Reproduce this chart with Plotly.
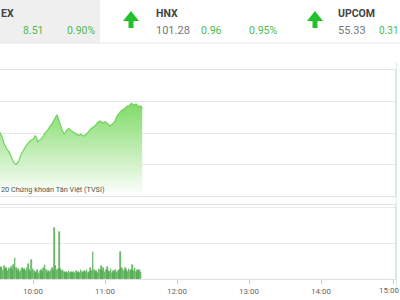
import plotly.graph_objects as go
import pandas as pd

# ---- data ----
day = "2020-06-01 "
price_times = [f"{9 + m // 60:02d}:{m % 60:02d}" for m in range(32, 151, 2)] + ["11:31"]
price_values = [950.2, 949.5, 948.3, 947.5, 947.0, 946.1, 945.3, 945.0, 945.5, 946.6,
                947.3, 947.9, 948.4, 948.8, 949.0, 949.6, 948.6, 949.0, 949.3, 950.0,
                950.4, 951.0, 951.5, 952.2, 952.9, 951.8, 950.6, 949.8, 950.4, 950.7,
                950.3, 950.1, 949.8, 949.6, 949.8, 949.5, 949.7, 950.2, 950.6, 950.9,
                951.2, 951.7, 951.9, 951.6, 951.8, 951.5, 951.1, 951.4, 951.8, 952.7,
                953.2, 953.6, 953.8, 954.2, 954.3, 954.7, 954.4, 954.6, 954.2, 954.3,
                953.8]
vol_times = [f"{9 + m // 60:02d}:{m % 60:02d}" for m in range(33, 151)]
vol_values = [0.30, 0.33, 0.25, 0.35, 0.28, 0.31, 0.22, 0.30, 0.27, 0.33,
              0.25, 0.38, 0.58, 0.30, 0.22, 0.27, 0.20, 0.24, 0.30, 0.26,
              0.28, 0.22, 0.30, 0.42, 0.25, 0.20, 0.53, 0.28, 0.22, 0.18,
              0.20, 0.25, 0.18, 0.22, 0.26, 0.20, 0.30, 0.39, 0.24, 0.18,
              0.22, 0.20, 0.26, 0.30, 0.22, 1.42, 0.35, 0.25, 0.28, 1.31,
              0.28, 0.22, 0.25, 0.20, 0.18, 0.20, 0.16, 0.22, 0.18, 0.20,
              0.17, 0.20, 0.18, 0.22, 0.16, 0.20, 0.18, 0.25, 0.20, 0.18,
              0.22, 0.20, 0.25, 0.18, 0.20, 0.30, 0.22, 0.75, 0.25, 0.20,
              0.22, 0.18, 0.28, 0.25, 0.35, 0.22, 0.30, 0.20, 0.25, 0.33,
              0.22, 0.20, 0.28, 0.18, 0.22, 0.20, 0.25, 0.20, 0.22, 0.25,
              0.75, 0.30, 0.28, 0.22, 0.32, 0.25, 0.20, 0.28, 0.22, 0.25,
              0.39, 0.22, 0.30, 0.20, 0.24, 0.22, 0.26, 0.20]
tick_labels = ["10:00", "11:00", "12:00", "13:00", "14:00", "15:00"]

header_names = ["EX", "HNX", "UPCOM"]
header_points = ["", "101.28", "55.33"]
header_changes = ["8.51", "0.96", "0.31"]
header_pcts = ["0.90%", "0.95%", ""]
watermark = "20 Chứng khoán Tân Việt (TVSI)"

W, H = 400, 300
px = lambda x: x / W
py = lambda y: 1 - y / H

FONT = "Roboto, sans-serif"
GREEN_TXT = "#4cbb4c"

x_start = pd.Timestamp(day + "10:00") - pd.Timedelta(minutes=27.5)
x_end = x_start + pd.Timedelta(minutes=395 / 72 * 60)

fig = go.Figure()
fig.add_trace(go.Scatter(
    x=[day + t for t in price_times], y=price_values, mode="lines",
    line=dict(color="#6fd35c", width=1.2), fill="tozeroy",
    fillgradient=dict(type="vertical", start=940, stop=955,
                      colorscale=[[0, "rgba(255,255,255,1)"], [1, "rgba(125,218,100,1)"]]),
    xaxis="x", yaxis="y", hoverinfo="skip"))
fig.add_trace(go.Bar(
    x=[day + t for t in vol_times], y=vol_values,
    marker=dict(color="#86d07a", line=dict(color="#3f9e3f", width=0.6)),
    width=60000 * 0.75, xaxis="x2", yaxis="y2", hoverinfo="skip"))

grid = "#e8e8e8"
box = "#e1e1e1"
tickvals = [day + t for t in tick_labels]
ticktext = tick_labels[:-1] + [""]
fig.update_layout(
    width=W, height=H, margin=dict(l=0, r=0, t=0, b=0),
    paper_bgcolor="white", plot_bgcolor="white", showlegend=False,
    bargap=0,
    xaxis=dict(domain=[0, px(395)], range=[x_start, x_end], type="date",
               showticklabels=False, showgrid=False, showline=True, mirror=True,
               linecolor=box, linewidth=1, zeroline=False, anchor="y"),
    yaxis=dict(domain=[py(196), py(70)], range=[940, 960], dtick=5,
               showticklabels=False, gridcolor=grid, showline=True, mirror=True,
               linecolor=box, zeroline=False, anchor="x"),
    xaxis2=dict(domain=[0, px(395)], range=[x_start, x_end], type="date",
                tickvals=tickvals, ticktext=ticktext, showgrid=False,
                ticks="outside", ticklen=4, tickcolor="#cccccc",
                tickfont=dict(family=FONT, size=8, color="#666666"),
                showline=True, mirror=True, linecolor=box, zeroline=False, anchor="y2"),
    yaxis2=dict(domain=[py(279), py(205)], range=[0, 2.06], dtick=1,
                showticklabels=False, gridcolor=grid, showline=True, mirror=True,
                linecolor=box, zeroline=False, anchor="x2"),
)

shapes = [
    dict(type="rect", xref="paper", yref="paper", x0=0, x1=px(100), y0=py(43), y1=1,
         fillcolor="#efefef", line=dict(width=0), layer="below"),
    dict(type="line", xref="paper", yref="paper", x0=0, x1=1, y0=py(43), y1=py(43),
         line=dict(color="#e6e6e6", width=1)),
    dict(type="line", xref="paper", yref="paper", x0=px(396.5), x1=px(396.5), y0=py(293), y1=py(62),
         line=dict(color="#dde9ee", width=1)),
]
for cx in (131, 315):
    l, r, top, mid, bot, sw = cx - 8, cx + 8, 11, 21, 28, 2.5
    path = (f"M {px(cx)},{py(top)} L {px(r)},{py(mid)} L {px(cx + sw)},{py(mid)} "
            f"L {px(cx + sw)},{py(bot)} L {px(cx - sw)},{py(bot)} L {px(cx - sw)},{py(mid)} "
            f"L {px(l)},{py(mid)} Z")
    shapes.append(dict(type="path", xref="paper", yref="paper", path=path,
                       fillcolor="#22c02a", line=dict(width=0)))
fig.update_layout(shapes=shapes)

ann = []
def text(x, y, s, color, size=11, bold=False, anchor="left"):
    ann.append(dict(xref="paper", yref="paper", x=px(x), y=py(y), text=f"<b>{s}</b>" if bold else s,
                    showarrow=False, xanchor=anchor, yanchor="middle", borderpad=0,
                    font=dict(family=FONT, size=size, color=color)))

name_x = [0, 155, 337]
pts_x = [0, 155, 337]
chg_x = [22, 200, 383]
pct_x = [66, 248, 430]
for i in range(3):
    text(name_x[i], 13, header_names[i], "#444444", 10.5, True)
    if header_points[i]:
        text(pts_x[i], 31, header_points[i], "#777777", 11)
    if i < 2:
        text(chg_x[i], 31, header_changes[i], GREEN_TXT, 10.5)
    else:
        text(400, 31, header_changes[i], GREEN_TXT, 10, anchor="right")
    if header_pcts[i]:
        text(pct_x[i], 31, header_pcts[i], GREEN_TXT, 10.5)
text(0, 189, watermark, "#555555", 7.3)
text(400, 290, tick_labels[-1], "#666666", 8, anchor="right")
fig.update_layout(annotations=ann)

fig.write_html("out.html")
